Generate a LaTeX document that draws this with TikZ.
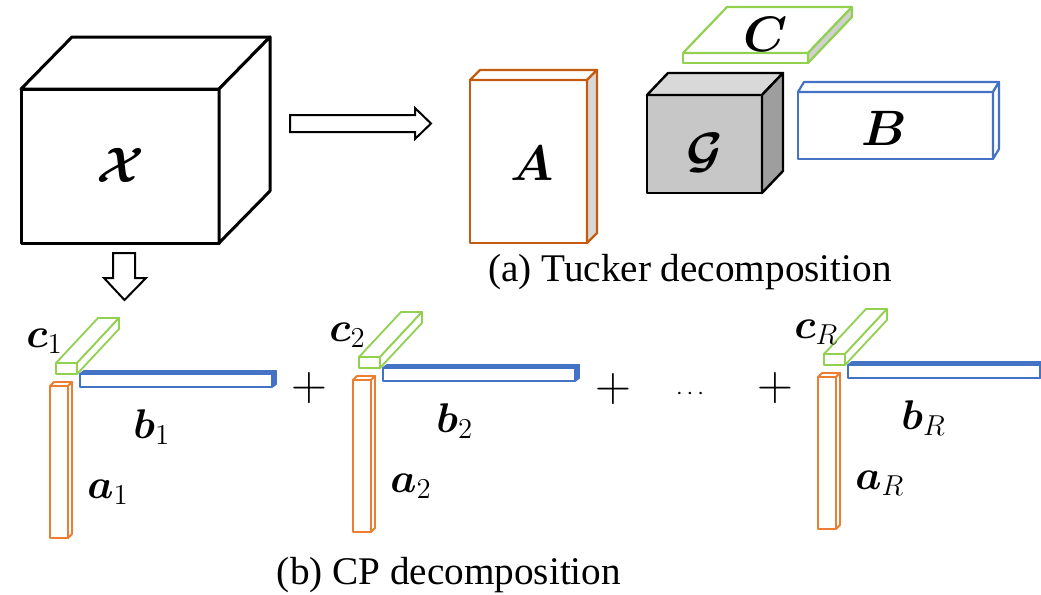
\documentclass[tikz,border=0pt]{standalone}
\usepackage{amsmath,amssymb,bm}
\usepackage{fontspec}
\newfontfamily\capfont{Liberation Serif}
\usepackage{tikz}
\definecolor{tkorange}{HTML}{C55A11}
\definecolor{tkgreen}{HTML}{92D050}
\definecolor{tkblue}{HTML}{4472C4}
\definecolor{cporange}{HTML}{ED7D31}
\tikzset{
  px/.style={x=0.5pt, y=-0.5pt, line join=round},
  cube/.style={draw=black, line width=1.5pt},
  core/.style={draw=black, line width=1.2pt, fill=black!22},
  mat/.style={line width=1.1pt},
  vec/.style={line width=0.9pt},
  hollow/.style={draw=black, fill=white, line width=1pt, line join=miter},
  sym/.style={inner sep=0pt, font=\fontsize{26}{30}\selectfont},
  vlab/.style={inner sep=0pt, anchor=base west, font=\fontsize{22}{26}\selectfont},
  op/.style={inner sep=0pt, font=\fontsize{28}{30}\selectfont},
  captext/.style={inner sep=0pt, font=\capfont\fontsize{19.6}{22}\selectfont}
}
% box: opts, x, y, w, h, dx, dy, top fill, side fill
\newcommand{\tbox}[9]{%
  \filldraw[#1] (#2,#3) rectangle ++(#4,#5);
  \filldraw[#1, fill=#8] (#2,#3) -- ++(#6,-#7) -- ++(#4,0) -- ++(-#6,#7) -- cycle;
  \filldraw[#1, fill=#9] (#2+#4,#3) -- ++(#6,-#7) -- ++(0,#5) -- ++(-#6,#7) -- cycle;
}

\begin{document}
\begin{tikzpicture}[px]
\useasboundingbox (0,0) rectangle (1041,595);

% tensor
\tbox{cube, fill=white}{21}{89}{198}{154}{51}{52}{white}{white}
\node[sym, font=\fontsize{28}{30}\selectfont] (X) at (120,165) {$\bm{\mathcal{X}}$};

% arrows
\draw[hollow] (290,115) -- (415,115) -- (415,108) -- (431,123.5) -- (415,139) -- (415,132) -- (290,132) -- cycle;
\draw[hollow] (113,253) -- (113,278) -- (104,278) -- (124.5,300) -- (146,278) -- (135,278) -- (135,253) -- cycle;

% Tucker
\tbox{mat, draw=tkorange, fill=white}{470}{80}{117}{163}{10}{10}{white}{black!15}
\node[sym] (A) at (532,163) {$\bm{A}$};
\tbox{core}{647}{95}{115}{98}{21}{22}{black!15}{black!38}
\node[sym] (G) at (705,153) {$\bm{\mathcal{G}}$};
\tbox{mat, draw=tkgreen, fill=white}{683}{53}{125}{10}{44}{46}{white}{black!18}
\node[sym] (C) at (766,34) {$\bm{C}$};
\tbox{mat, draw=tkblue, fill=white}{798}{92}{195}{67}{6}{10}{white}{white}
\node[sym] (B) at (884,128) {$\bm{B}$};
\node[captext] (capa) at (690,272) {(a) Tucker decomposition};

% CP terms
\foreach \x/\y/\s/\n in {50/382/1/one, 353/376/2/two, 818/373/R/last}{
  \begin{scope}[shift={(\x,\y)}]
    \tbox{vec, draw=tkblue, fill=white}{30}{-8}{192}{13}{4}{3}{tkblue}{tkblue}
    \tbox{vec, draw=tkgreen, fill=white}{6}{-19}{21}{11}{42}{45}{white}{white}
    \tbox{vec, draw=cporange, fill=white}{0}{4}{18}{152}{4}{4}{white}{white}
    \node[vlab] (c\n) at (-24,-35) {$\bm{c}_{\s}$};
    \node[vlab] (b\n) at (83,56) {$\bm{b}_{\s}$};
    \node[vlab] (a\n) at (37,116) {$\bm{a}_{\s}$};
  \end{scope}
}
\node[op] (plusone) at (309,388) {$+$};
\node[op] (plustwo) at (613,389) {$+$};
\node[op] (plusthree) at (775,388) {$+$};
\node[inner sep=0pt, font=\fontsize{13}{15}\selectfont] (dots) at (692,394) {$\cdots$};
\node[captext] (capb) at (449,575) {(b) CP decomposition};
\end{tikzpicture}
\end{document}
